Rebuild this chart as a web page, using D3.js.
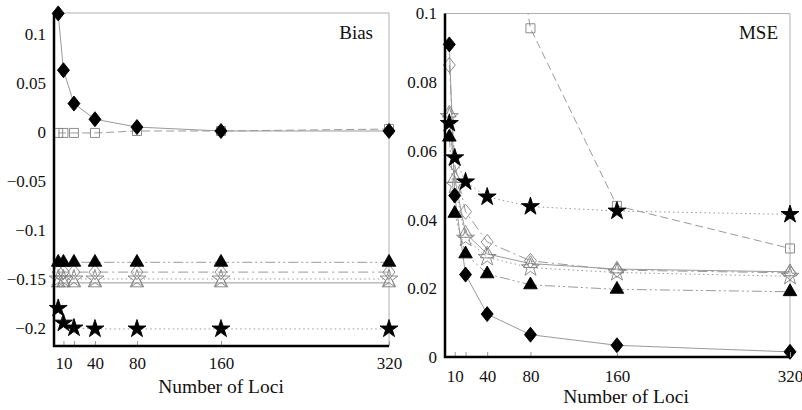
<!DOCTYPE html>
<html>
<head>
<meta charset="utf-8">
<script src="https://cdn.jsdelivr.net/npm/d3@7"></script>
<style>
  body { margin: 0; background: #fff; }
  svg text { font-family: "Liberation Serif", "DejaVu Serif", serif; fill: #111; }
</style>
</head>
<body>
<div id="chart"></div>
<script>
// number of loci on the x axis
const loci = [5, 10, 20, 40, 80, 160, 320];
const xTicks = [10, 20, 40, 80, 160, 320];
const xTickLabels = ["10", "", "40", "80", "160", "320"];

// Bias panel
const biasTicks = [0.1, 0.05, 0, -0.05, -0.1, -0.15, -0.2];
const biasTickLabels = ["0.1", "0.05", "0", "\u22120.05", "\u22120.1", "\u22120.15", "\u22120.2"];
const biasFilledDiamond = [0.121, 0.063, 0.029, 0.013, 0.005, 0.001, 0.001];
const biasOpenSquare = [-0.001, -0.001, -0.001, -0.001, 0.001, 0.001, 0.003];
const biasFilledTriangle = [-0.133, -0.133, -0.133, -0.133, -0.133, -0.133, -0.133];
const biasOpenDiamond = [-0.143, -0.143, -0.143, -0.143, -0.143, -0.143, -0.143];
const biasOpenStar = [-0.150, -0.150, -0.150, -0.150, -0.150, -0.150, -0.150];
const biasOpenTriangle = [-0.154, -0.154, -0.154, -0.154, -0.154, -0.154, -0.154];
const biasFilledStar = [-0.180, -0.195, -0.200, -0.201, -0.201, -0.201, -0.201];

// MSE panel
const mseTicks = [0.1, 0.08, 0.06, 0.04, 0.02, 0];
const mseTickLabels = ["0.1", "0.08", "0.06", "0.04", "0.02", "0"];
const mseFilledDiamond = [0.091, 0.047, 0.024, 0.0125, 0.0065, 0.0034, 0.0015];
const mseOpenSquare = [0.45, 0.35, 0.25, 0.17, 0.0957, 0.044, 0.0316];
const mseFilledStar = [0.068, 0.058, 0.051, 0.0466, 0.0438, 0.0425, 0.0415];
const mseFilledTriangle = [0.064, 0.0418, 0.030, 0.0242, 0.021, 0.0197, 0.019];
const mseOpenDiamond = [0.085, 0.056, 0.0423, 0.0335, 0.028, 0.0253, 0.0245];
const mseOpenTriangle = [0.071, 0.052, 0.036, 0.030, 0.0272, 0.0256, 0.0248];
const mseOpenStar = [0.070, 0.050, 0.0346, 0.029, 0.026, 0.0246, 0.0235];

const W = 802, H = 410;
const lineGrey = "#9a9a9a", markGrey = "#808080";

const dashes = {
  solid: null,
  dashed: "8,4",
  dotted: "1.5,3",
  dashDot: "10,4,2,4",
  dashDotDot: "10,3,2,3,2,3"
};

const diamondPath = "M0,-7.5L6,0L0,7.5L-6,0Z";
const shapes = {
  filledDiamond: { d: diamondPath, fill: "#000", stroke: "#000" },
  openDiamond: { d: diamondPath, fill: "none", stroke: markGrey },
  openSquare: { d: "M-4.5,-4.5H4.5V4.5H-4.5Z", fill: "none", stroke: markGrey },
  filledTriangle: { d: d3.symbol(d3.symbolTriangle, 80)(), fill: "#000", stroke: "#000" },
  openTriangle: { d: d3.symbol(d3.symbolTriangle, 80)(), fill: "none", stroke: markGrey },
  filledStar: { d: d3.symbol(d3.symbolStar, 100)(), fill: "#000", stroke: "#000" },
  openStar: { d: d3.symbol(d3.symbolStar, 100)(), fill: "none", stroke: markGrey }
};

const svg = d3.select("#chart").append("svg")
  .attr("width", W).attr("height", H);

function panel(opts) {
  const x = d3.scaleLinear().domain([1, 320]).range(opts.xRange);
  const y = d3.scaleLinear().domain(opts.yDomain).range(opts.yRange);
  const g = svg.append("g");
  const [x0, x1] = opts.xRange, [yb, yt] = opts.yRange;

  // grey frame on top and right
  g.append("path")
    .attr("d", `M${x0},${yt}H${x1}V${yb}`)
    .attr("fill", "none").attr("stroke", "#b0b0b0").attr("stroke-width", 1);

  const clipId = opts.name + "-clip";
  g.append("clipPath").attr("id", clipId)
    .append("rect").attr("x", x0).attr("y", yt).attr("width", x1 - x0).attr("height", yb - yt);

  const line = d3.line().x((d, i) => x(loci[i])).y(d => y(d));

  g.append("g").attr("clip-path", `url(#${clipId})`)
    .selectAll("path").data(opts.series).join("path")
      .attr("d", s => line(s.values))
      .attr("fill", "none")
      .attr("stroke", lineGrey)
      .attr("stroke-width", 1)
      .attr("stroke-dasharray", s => dashes[s.dash]);

  const [lo, hi] = opts.yDomain;
  opts.series.forEach(s => {
    const pts = s.values.map((v, i) => [loci[i], v]).filter(p => p[1] >= lo && p[1] <= hi);
    g.append("g").selectAll("path").data(pts).join("path")
      .attr("transform", p => `translate(${x(p[0])},${y(p[1])})`)
      .attr("d", shapes[s.shape].d)
      .attr("fill", shapes[s.shape].fill)
      .attr("stroke", shapes[s.shape].stroke)
      .attr("stroke-width", 0.9);
  });

  // x axis
  const xAxis = g.append("g").attr("transform", `translate(0,${yb})`)
    .call(d3.axisBottom(x).tickValues(xTicks).tickSize(-5).tickPadding(opts.xPad)
      .tickFormat((d, i) => xTickLabels[i]));
  xAxis.select(".domain").remove();
  xAxis.selectAll("line").attr("stroke", "#999");
  xAxis.selectAll("text").attr("font-size", 17).attr("font-family", "Liberation Serif");

  // y axis
  const yAxis = g.append("g").attr("transform", `translate(${x0},0)`)
    .call(d3.axisLeft(y).tickValues(opts.ticks).tickSize(0).tickPadding(8)
      .tickFormat((d, i) => opts.tickLabels[i]));
  yAxis.select(".domain").remove();
  yAxis.selectAll("text").attr("font-size", 17).attr("font-family", "Liberation Serif");

  // thick black axis lines
  g.append("path")
    .attr("d", `M${x0},${yt}V${yb}H${x1}`)
    .attr("fill", "none").attr("stroke", "#000").attr("stroke-width", 2.5);

  g.append("text")
    .attr("x", opts.labelX).attr("y", 39)
    .attr("text-anchor", "end").attr("font-size", 19)
    .text(opts.label);

  g.append("text")
    .attr("x", opts.titleX).attr("y", opts.titleY)
    .attr("text-anchor", "middle").attr("font-size", 19.5)
    .text("Number of Loci");
}

panel({
  name: "bias",
  xRange: [54, 389], yRange: [346, 13], yDomain: [-0.2184, 0.1214],
  ticks: biasTicks, tickLabels: biasTickLabels, xPad: 11,
  label: "Bias", labelX: 373, titleX: 221, titleY: 393,
  series: [
    { values: biasOpenSquare, shape: "openSquare", dash: "dashed" },
    { values: biasFilledDiamond, shape: "filledDiamond", dash: "solid" },
    { values: biasOpenTriangle, shape: "openTriangle", dash: "solid" },
    { values: biasOpenStar, shape: "openStar", dash: "dotted" },
    { values: biasOpenDiamond, shape: "openDiamond", dash: "dashDot" },
    { values: biasFilledTriangle, shape: "filledTriangle", dash: "dashDotDot" },
    { values: biasFilledStar, shape: "filledStar", dash: "dotted" }
  ]
});

panel({
  name: "mse",
  xRange: [445, 790], yRange: [357, 13.5], yDomain: [0, 0.1],
  ticks: mseTicks, tickLabels: mseTickLabels, xPad: 13,
  label: "MSE", labelX: 778, titleX: 626, titleY: 403,
  series: [
    { values: mseOpenSquare, shape: "openSquare", dash: "dashed" },
    { values: mseOpenTriangle, shape: "openTriangle", dash: "solid" },
    { values: mseOpenStar, shape: "openStar", dash: "dotted" },
    { values: mseOpenDiamond, shape: "openDiamond", dash: "dashDot" },
    { values: mseFilledTriangle, shape: "filledTriangle", dash: "dashDotDot" },
    { values: mseFilledStar, shape: "filledStar", dash: "dotted" },
    { values: mseFilledDiamond, shape: "filledDiamond", dash: "solid" }
  ]
});
</script>
</body>
</html>
